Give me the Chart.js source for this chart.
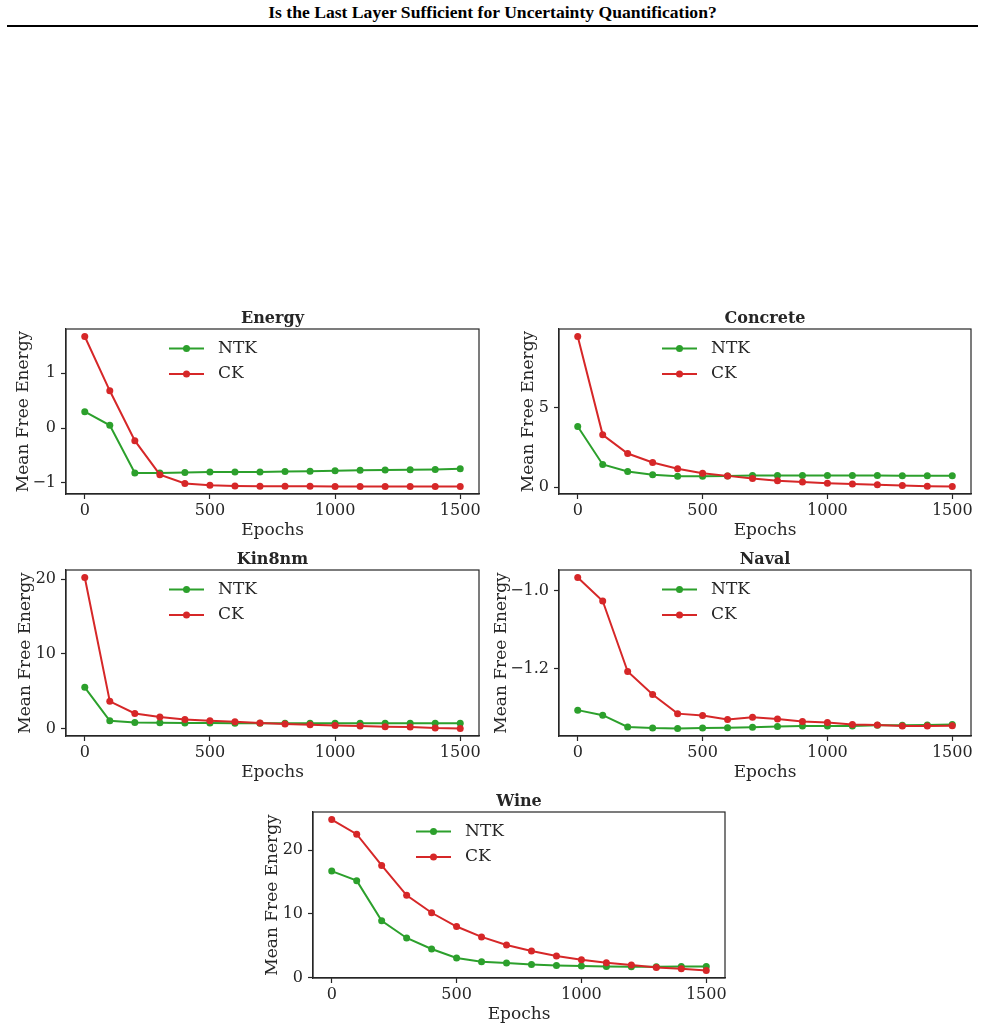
<!DOCTYPE html>
<html lang="en">
<head>
<meta charset="UTF-8">
<title>Is the Last Layer Sufficient for Uncertainty Quantification?</title>
<script src="https://cdn.jsdelivr.net/npm/chart.js"></script>
<style>
    body {
        margin: 0;
        background: #fff;
        width: 985px;
        height: 1029px;
        position: relative;
        overflow: hidden;
    }
    .header {
        position: absolute;
        left: 0;
        top: 3px;
        width: 985px;
        text-align: center;
        font-family: "Liberation Serif", serif;
        font-weight: bold;
        font-size: 17.6px;
        line-height: 18px;
        color: #000;
    }
    .rule {
        position: absolute;
        left: 7px;
        top: 25px;
        width: 971px;
        height: 2px;
        background: #000;
    }
    canvas {
        position: absolute;
    }
</style>
</head>
<body>
<div class="header">Is the Last Layer Sufficient for Uncertainty Quantification?</div>
<div class="rule"></div>

<script>
// ---- data ----
const epochs = [0, 100, 200, 300, 400, 500, 600, 700, 800, 900, 1000, 1100, 1200, 1300, 1400, 1500];
const xTicks = [0, 500, 1000, 1500];

const energyNTK = [0.30, 0.05, -0.82, -0.82, -0.81, -0.80, -0.80, -0.80, -0.79, -0.787, -0.78, -0.77, -0.765, -0.76, -0.755, -0.74];
const energyCK  = [1.67, 0.68, -0.23, -0.85, -1.01, -1.04, -1.055, -1.06, -1.06, -1.06, -1.065, -1.065, -1.065, -1.065, -1.065, -1.065];
const energyTicks = [-1, 0, 1];

const concreteNTK = [3.82, 1.43, 0.99, 0.78, 0.69, 0.69, 0.71, 0.73, 0.73, 0.73, 0.73, 0.73, 0.73, 0.72, 0.72, 0.72];
const concreteCK  = [9.5, 3.30, 2.12, 1.55, 1.16, 0.88, 0.71, 0.55, 0.40, 0.32, 0.25, 0.19, 0.15, 0.10, 0.06, 0.04];
const concreteTicks = [0, 5];

const kin8nmNTK = [5.54, 1.07, 0.85, 0.80, 0.76, 0.76, 0.75, 0.75, 0.74, 0.74, 0.74, 0.74, 0.74, 0.74, 0.74, 0.74];
const kin8nmCK  = [20.2, 3.66, 2.05, 1.56, 1.25, 1.07, 0.94, 0.76, 0.63, 0.54, 0.45, 0.36, 0.27, 0.22, 0.09, 0.04];
const kin8nmTicks = [0, 10, 20];

const navalNTK = [-1.307, -1.320, -1.350, -1.353, -1.354, -1.353, -1.352, -1.351, -1.349, -1.348, -1.348, -1.348, -1.346, -1.346, -1.345, -1.344];
const navalCK  = [-0.967, -1.027, -1.208, -1.267, -1.316, -1.321, -1.331, -1.325, -1.330, -1.336, -1.339, -1.344, -1.345, -1.348, -1.348, -1.347];
const navalTicks = [-1.2, -1.0];

const wineNTK = [16.7, 15.2, 8.9, 6.2, 4.47, 3.05, 2.47, 2.26, 2.05, 1.89, 1.79, 1.74, 1.68, 1.68, 1.72, 1.72];
const wineCK  = [24.8, 22.5, 17.6, 12.9, 10.16, 8.0, 6.37, 5.1, 4.16, 3.37, 2.79, 2.32, 1.95, 1.58, 1.37, 1.1];
const wineTicks = [0, 10, 20];

// ---- styling / layout ----
const FONT = "'DejaVu Serif', serif";
const AX = '#262626';
const GREEN = '#2ca02c';
const RED = '#d62728';
const TITLE_H = 26;   // title block above the plot
const XAXIS_H = 47;   // tick labels + "Epochs"
const RIGHT_PAD = 6;

const panels = [
    { title: 'Energy',   ntk: energyNTK,   ck: energyCK,   ticks: energyTicks,   dec: 0, plotLeft: 66,  plotTop: 329, plotW: 413, plotH: 165, yTitleX: 23 },
    { title: 'Concrete', ntk: concreteNTK, ck: concreteCK, ticks: concreteTicks, dec: 0, plotLeft: 559, plotTop: 329, plotW: 412, plotH: 165, yTitleX: 528 },
    { title: 'Kin8nm',   ntk: kin8nmNTK,   ck: kin8nmCK,   ticks: kin8nmTicks,   dec: 0, plotLeft: 66,  plotTop: 570, plotW: 413, plotH: 166, yTitleX: 25 },
    { title: 'Naval',    ntk: navalNTK,    ck: navalCK,    ticks: navalTicks,    dec: 1, plotLeft: 559, plotTop: 570, plotW: 412, plotH: 166, yTitleX: 501 },
    { title: 'Wine',     ntk: wineNTK,     ck: wineCK,     ticks: wineTicks,     dec: 0, plotLeft: 313, plotTop: 812, plotW: 412, plotH: 166, yTitleX: 272 }
];

function fmt(v, d) {
    return Number(v).toFixed(d).replace('-', '\u2212');
}

// box around the plot area (matplotlib spines)
const boxPlugin = {
    id: 'box',
    afterDraw(chart) {
        const a = chart.chartArea, ctx = chart.ctx;
        ctx.save();
        ctx.strokeStyle = AX;
        ctx.lineWidth = 1.2;
        ctx.strokeRect(a.left, a.top, a.right - a.left, a.bottom - a.top);
        ctx.restore();
    }
};

// legend drawn inside the axes, upper centre, no frame
const innerLegend = {
    id: 'innerLegend',
    afterDraw(chart) {
        const a = chart.chartArea, ctx = chart.ctx;
        ctx.save();
        chart.data.datasets.forEach((ds, i) => {
            const y = a.top + 19.5 + i * 25.5;
            const x0 = a.left + 103;
            ctx.strokeStyle = ds.borderColor;
            ctx.lineWidth = 2;
            ctx.beginPath();
            ctx.moveTo(x0, y);
            ctx.lineTo(x0 + 35, y);
            ctx.stroke();
            ctx.fillStyle = ds.borderColor;
            ctx.beginPath();
            ctx.arc(x0 + 17.5, y, 3.5, 0, Math.PI * 2);
            ctx.fill();
            ctx.fillStyle = AX;
            ctx.font = '17px ' + FONT;
            ctx.textBaseline = 'middle';
            ctx.textAlign = 'left';
            ctx.fillText(ds.label, x0 + 49, y);
        });
        ctx.restore();
    }
};

function makeChart(p) {
    const left = Math.round(p.yTitleX - 10);
    const yW = p.plotLeft - left;
    const canvas = document.createElement('canvas');
    canvas.width = yW + p.plotW + RIGHT_PAD;
    canvas.height = TITLE_H + p.plotH + XAXIS_H;
    canvas.style.left = left + 'px';
    canvas.style.top = (p.plotTop - TITLE_H) + 'px';
    canvas.style.width = canvas.width + 'px';
    canvas.style.height = canvas.height + 'px';
    document.body.appendChild(canvas);

    const all = p.ntk.concat(p.ck);
    const lo = Math.min(...all), hi = Math.max(...all);
    const m = (hi - lo) * 0.05;

    const gridOpts = { display: true, drawOnChartArea: false, drawTicks: true, tickLength: 5, tickWidth: 1.2, tickColor: AX };

    new Chart(canvas.getContext('2d'), {
        type: 'line',
        data: {
            datasets: [
                { label: 'NTK', data: epochs.map((e, i) => ({ x: e, y: p.ntk[i] })), borderColor: GREEN, backgroundColor: GREEN,
                  borderWidth: 2, pointRadius: 3.5, pointBorderWidth: 0, pointBackgroundColor: GREEN, tension: 0, order: 1 },
                { label: 'CK', data: epochs.map((e, i) => ({ x: e, y: p.ck[i] })), borderColor: RED, backgroundColor: RED,
                  borderWidth: 2, pointRadius: 3.5, pointBorderWidth: 0, pointBackgroundColor: RED, tension: 0, order: 0 }
            ]
        },
        options: {
            responsive: false,
            animation: false,
            devicePixelRatio: 1,
            layout: { padding: { left: 0, right: RIGHT_PAD, top: 0, bottom: 0 } },
            plugins: {
                legend: { display: false },
                tooltip: { enabled: false },
                title: {
                    display: true,
                    fullSize: false,   // centre over the plot area, not the whole canvas
                    text: p.title,
                    color: AX,
                    font: { family: FONT, size: 16, weight: 'bold' },
                    padding: { top: 6, bottom: 0.8 }
                }
            },
            scales: {
                x: {
                    type: 'linear',
                    min: -75,
                    max: 1575,
                    afterBuildTicks: s => { s.ticks = xTicks.map(v => ({ value: v })); },
                    afterFit: s => { s.height = XAXIS_H; },
                    grid: gridOpts,
                    border: { display: true, color: AX, width: 1.2 },
                    ticks: { padding: 2, color: AX, font: { family: FONT, size: 16 }, maxRotation: 0, autoSkip: false,
                             callback: v => fmt(v, 0) },
                    title: { display: true, text: 'Epochs', color: AX, font: { family: FONT, size: 17 }, padding: 0 }
                },
                y: {
                    type: 'linear',
                    min: lo - m,
                    max: hi + m,
                    afterBuildTicks: s => { s.ticks = p.ticks.map(v => ({ value: v })); },
                    afterFit: s => { s.width = yW; },
                    grid: gridOpts,
                    border: { display: true, color: AX, width: 1.2 },
                    ticks: { padding: 5, color: AX, font: { family: FONT, size: 16 }, autoSkip: false,
                             callback: v => fmt(v, p.dec) },
                    title: { display: true, text: 'Mean Free Energy', color: AX, font: { family: FONT, size: 17 }, padding: 0 }
                }
            }
        },
        plugins: [boxPlugin, innerLegend]
    });
}

panels.forEach(makeChart);
</script>
</body>
</html>
